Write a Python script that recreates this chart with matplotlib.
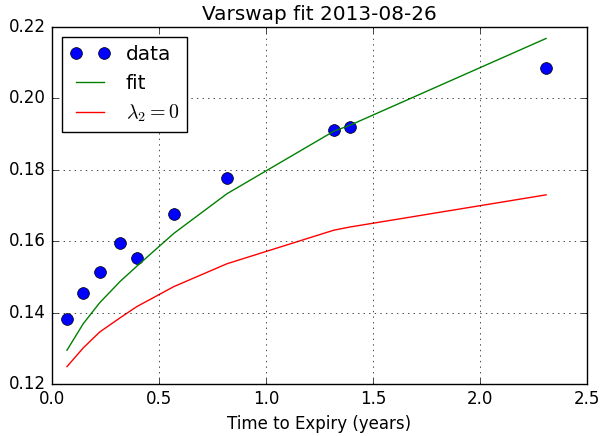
import numpy as np
import matplotlib
matplotlib.use('Agg')
import matplotlib.pyplot as plt

plt.style.use('classic')

# Dados
t_data = [0.071, 0.148, 0.224, 0.320, 0.397, 0.570, 0.818, 1.317, 1.393, 2.309]
vol_data = [0.1381, 0.1455, 0.1513, 0.1595, 0.1554, 0.1677, 0.1776, 0.1912, 0.1919, 0.2084]
vol_fit = [0.1295, 0.1370, 0.1428, 0.1488, 0.1530, 0.1622, 0.1733, 0.1908, 0.1925, 0.2168]
vol_lam0 = [0.1249, 0.1302, 0.1346, 0.1386, 0.1417, 0.1473, 0.1537, 0.1631, 0.1640, 0.1730]

fig = plt.figure(figsize=(6.02, 4.36), dpi=100, facecolor='white')
ax = fig.add_axes([0.086, 0.119, 0.889, 0.819])

ax.plot(t_data, vol_data, 'o', color='blue', markeredgecolor='black',
        markersize=8.5, label='data')
ax.plot(t_data, vol_fit, '-', color='green', lw=1.0, label='fit')
ax.plot(t_data, vol_lam0, '-', color='red', lw=1.0, label=r'$\lambda_2=0$')

ax.set_xlim(0, 2.5)
ax.set_ylim(0.12, 0.22)
ax.set_xticks(np.arange(0, 2.51, 0.5))
ax.set_yticks(np.arange(0.12, 0.2201, 0.02))
ax.grid(True, color='black', linestyle=':')
ax.set_xlabel('Time to Expiry (years)')
ax.set_title('Varswap fit 2013-08-26')
ax.legend(loc='upper left', numpoints=2)

fig.savefig('out.png', dpi=100, facecolor='white')
